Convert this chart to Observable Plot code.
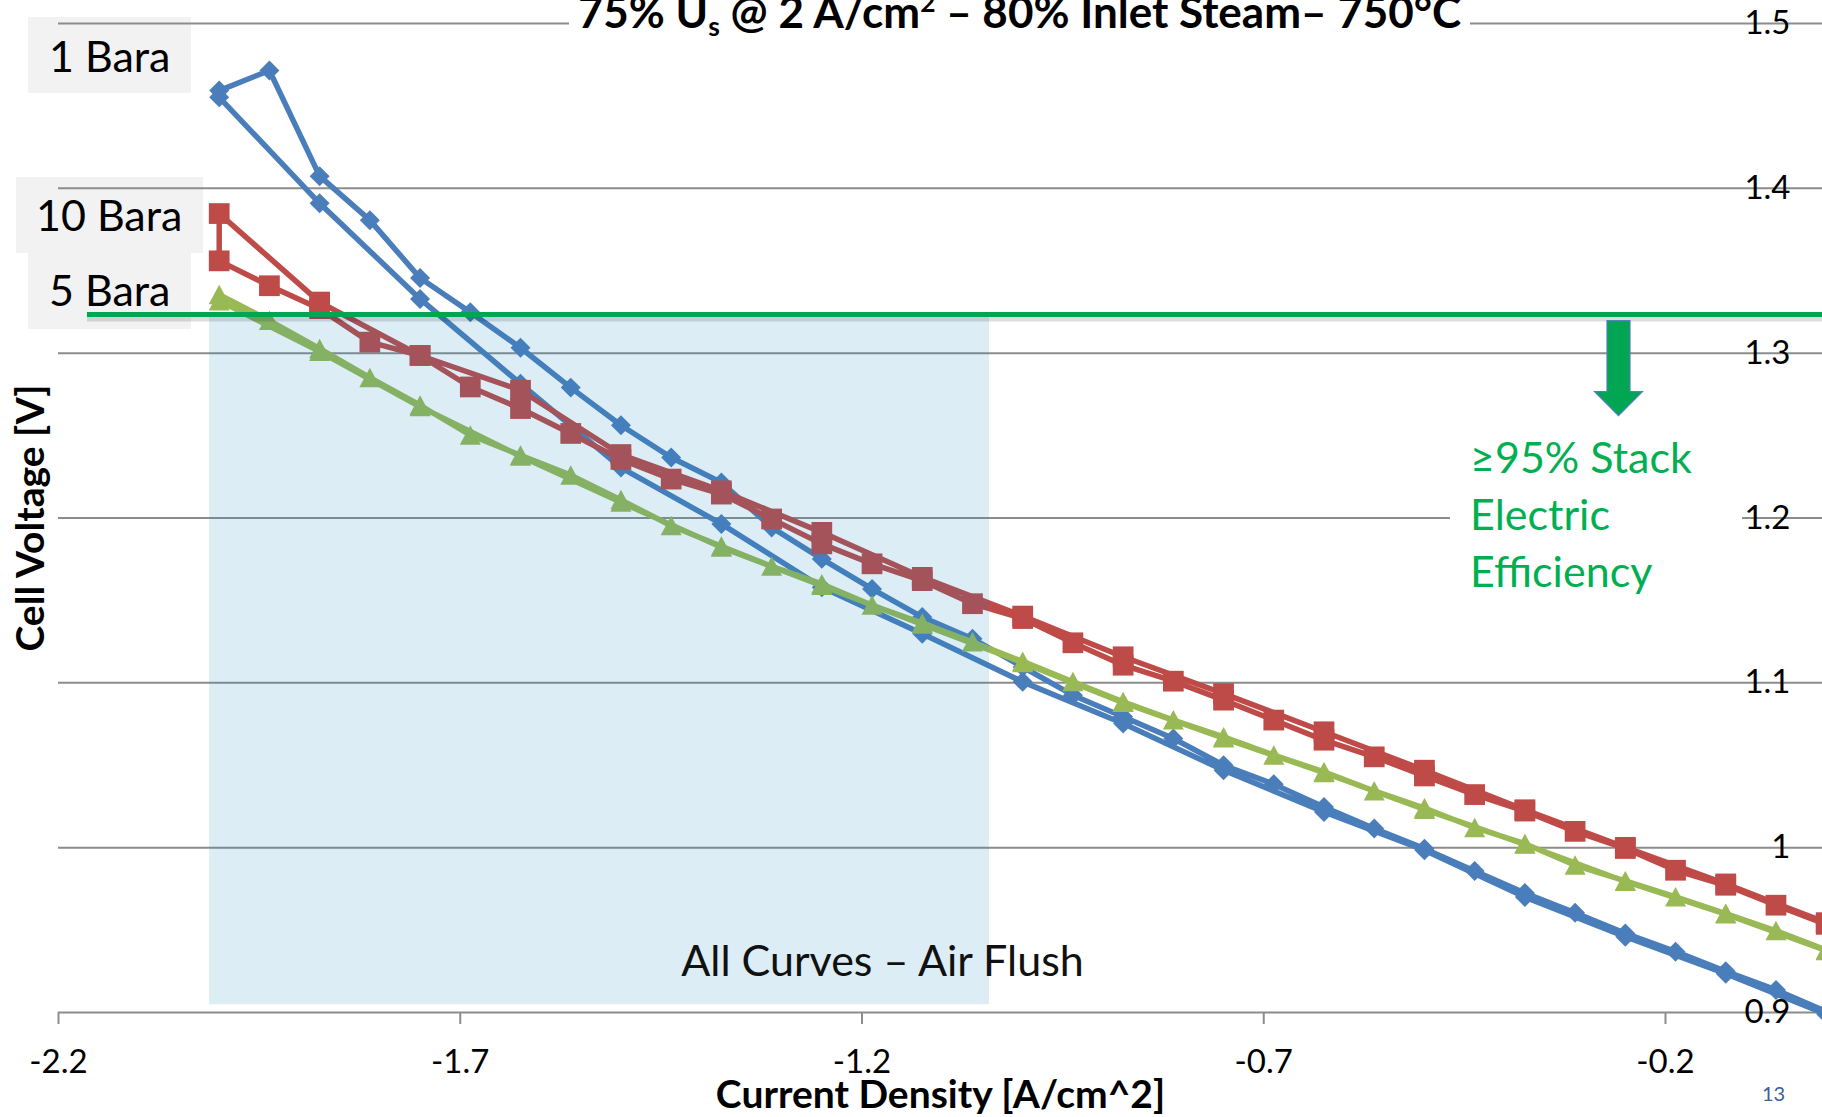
<!DOCTYPE html>
<html><head><meta charset="utf-8">
<script src="https://cdn.jsdelivr.net/npm/d3@7"></script>
<script src="https://cdn.jsdelivr.net/npm/@observablehq/plot@0.6"></script>
<style>
html,body{margin:0;padding:0;background:#fff;overflow:hidden;}
#wrap{position:relative;width:1822px;height:1117px;overflow:hidden;font-family:Lato,"Open Sans",sans-serif;}
#wrap svg{position:absolute;left:0;top:0;z-index:1;}
.under{position:absolute;z-index:0;}
.over{position:absolute;z-index:2;}
.lbl{position:absolute;white-space:nowrap;line-height:1.2;font-family:Lato,"Open Sans",sans-serif;}
</style></head>
<body><div id="wrap"></div>
<script>
// Current density steps (A/cm^2)
const currentStep = [-2, -1.9375, -1.875, -1.8125, -1.75, -1.6875, -1.625, -1.5625, -1.5, -1.4375, -1.375, -1.3125, -1.25, -1.1875, -1.125, -1.0625, -1, -0.9375, -0.875, -0.8125, -0.75, -0.6875, -0.625, -0.5625, -0.5, -0.4375, -0.375, -0.3125, -0.25, -0.1875, -0.125, -0.0625, 0];
const currentReturn = [-2, -1.875, -1.75, -1.625, -1.5, -1.375, -1.25, -1.125, -1, -0.875, -0.75, -0.625, -0.5, -0.375, -0.25, -0.125, 0];

// Cell voltage (V), 1 Bara
const v1BaraStep = [1.4593, 1.4715, 1.4074, 1.3807, 1.3456, 1.3248, 1.3033, 1.2791, 1.2563, 1.2367, 1.2215, 1.1943, 1.1752, 1.157, 1.1399, 1.1268, 1.1096, 1.0925, 1.0794, 1.0662, 1.05, 1.0385, 1.0247, 1.0116, 0.9994, 0.9859, 0.9725, 0.9605, 0.948, 0.9369, 0.925, 0.9137, 0.9006];
const v1BaraReturn = [1.4552, 1.3909, 1.3329, 1.2815, 1.2306, 1.1964, 1.158, 1.1298, 1.1006, 1.0753, 1.047, 1.0217, 0.9984, 0.970, 0.946, 0.9235, 0.899];
// 10 Bara
const v10BaraStep = [1.356, 1.3409, 1.327, 1.3067, 1.2986, 1.2795, 1.2664, 1.2513, 1.2355, 1.2236, 1.2145, 1.1994, 1.1843, 1.1722, 1.162, 1.148, 1.139, 1.1243, 1.1107, 1.101, 1.0895, 1.0774, 1.0652, 1.0551, 1.0435, 1.0322, 1.0222, 1.0099, 0.9995, 0.9863, 0.9772, 0.9651, 0.9535];
const v10BaraReturn = [1.3847, 1.331, 1.2986, 1.2775, 1.2385, 1.2165, 1.1913, 1.164, 1.1405, 1.1158, 1.0935, 1.0703, 1.047, 1.023, 1.0002, 0.978, 0.9545];
// 5 Bara
const v5BaraStep = [1.3355, 1.3198, 1.3027, 1.2851, 1.2684, 1.2502, 1.2381, 1.226, 1.211, 1.1953, 1.1828, 1.1707, 1.16, 1.147, 1.1362, 1.1247, 1.113, 1.1006, 1.0885, 1.0774, 1.0672, 1.0561, 1.046, 1.0344, 1.024, 1.0121, 1.0024, 0.9893, 0.9798, 0.9701, 0.96, 0.9496, 0.9379];
const v5BaraReturn = [1.3317, 1.301, 1.2675, 1.2375, 1.2095, 1.1822, 1.159, 1.1355, 1.1122, 1.088, 1.0665, 1.0455, 1.0232, 1.002, 0.9795, 0.9597, 0.9375];

const xTicks = [-2.2, -1.7, -1.2, -0.7, -0.2];
const yTicks = [0.9, 1, 1.1, 1.2, 1.3, 1.4, 1.5];
const efficiencyLimit = [1.3234];
const airFlushCurrent = [-2.012, -1.0413];
const airFlushVoltage = [0.9047, 1.3226];

// Excel-like isosceles triangle marker
const triangleSymbol = {draw(ctx) {
  ctx.moveTo(0, -10); ctx.lineTo(10.5, 9.5); ctx.lineTo(-10.5, 9.5); ctx.closePath();
}};

const series = [
  {step: v1BaraStep, ret: v1BaraReturn, color: "#4A7EBB", symbol: "diamond2", r: 9},
  {step: v10BaraStep, ret: v10BaraReturn, color: "#BE4B48", symbol: "square", r: 11.7},
  {step: v5BaraStep, ret: v5BaraReturn, color: "#98B954", symbol: triangleSymbol, r: 8}
];

function rows(s) {
  const out = [];
  for (let i = currentStep.length - 1; i >= 0; i--) out.push({i: currentStep[i], v: s.step[i]});
  for (let k = 0; k < currentReturn.length; k++) out.push({i: currentReturn[k], v: s.ret[k]});
  return out;
}

const arrowSymbol = {draw(ctx) {
  ctx.moveTo(-11.5, 0); ctx.lineTo(11.5, 0); ctx.lineTo(11.5, 71); ctx.lineTo(24, 71);
  ctx.lineTo(0, 95); ctx.lineTo(-24, 71); ctx.lineTo(-11.5, 71); ctx.closePath();
}};

const seriesMarks = series.flatMap(s => {
  const d = rows(s);
  return [
    Plot.line(d, {x: "i", y: "v", stroke: s.color, strokeWidth: 5.5, strokeLinejoin: "round"}),
    Plot.dot(d, {x: "i", y: "v", symbol: s.symbol, r: s.r, fill: s.color, stroke: "none"})
  ];
});

const chart = Plot.plot({
  width: 1822, height: 1117,
  marginLeft: 58, marginRight: 0, marginTop: 23, marginBottom: 105,
  x: {domain: [-2.2, -0.0046]},
  y: {domain: [0.9, 1.5]},
  style: {fontFamily: "Lato, 'Open Sans', sans-serif", background: "transparent", color: "#000"},
  marks: [
    Plot.ruleY(yTicks, {stroke: "#8c8c8c", strokeWidth: 2}),
    ...seriesMarks,
    Plot.rect([0], {x1: airFlushCurrent[0], x2: airFlushCurrent[1], y1: airFlushVoltage[0], y2: airFlushVoltage[1], fill: "#1B87C0", fillOpacity: 0.15}),
    Plot.ruleY(efficiencyLimit, {x1: -2.164, x2: 0.01, stroke: "#000", strokeOpacity: 0.13, strokeWidth: 6, dy: 4}),
    Plot.ruleY(efficiencyLimit, {x1: -2.164, x2: 0.01, stroke: "#00A651", strokeWidth: 5}),
    Plot.dot([0], {x: -0.2585, y: 1.3198, symbol: arrowSymbol, r: 10, fill: "#00A651", stroke: "#4F81BD", strokeWidth: 1.2}),
    Plot.text(["All Curves \u2013 Air Flush"], {x: -1.1745, y: 0.9307, fontSize: 43, fill: "#111"}),
    Plot.axisX({ticks: xTicks, tickFormat: d => String(d), tickSize: 12, tickPadding: 25, fontSize: 33, stroke: "#8c8c8c", strokeWidth: 2, fill: "#000", label: null}),
    Plot.axisY({anchor: "right", ticks: yTicks, tickFormat: d => String(d), tickSize: 0, tickPadding: 0, textAnchor: "end", dx: -32, fontSize: 33, fill: "#000", label: null}),
    Plot.text(["Current Density [A/cm^2]"], {frameAnchor: "bottom", dy: 95, fontSize: 39, fontWeight: "bold", fill: "#000"}),
    Plot.text(["Cell Voltage [V]"], {frameAnchor: "left", textAnchor: "middle", dx: -27, rotate: -90, fontSize: 39, fontWeight: "bold", fill: "#000"})
  ]
});

const wrap = document.getElementById("wrap");
wrap.innerHTML = `
<div class="under" style="left:28px;top:17px;width:163px;height:76px;background:#F2F2F2"></div>
<div class="under" style="left:16px;top:177px;width:187px;height:76px;background:#F2F2F2"></div>
<div class="under" style="left:28px;top:253px;width:163px;height:76px;background:#F2F2F2"></div>
<div class="lbl" style="z-index:0;left:49px;top:29.6px;font-size:43px;color:#000">1 Bara</div>
<div class="lbl" style="z-index:0;left:36px;top:188.6px;font-size:43px;color:#000">10 Bara</div>
<div class="lbl" style="z-index:0;left:49px;top:263.6px;font-size:43px;color:#000">5 Bara</div>
<div class="over" style="left:569px;top:-14px;width:901px;height:50px;background:#fff;text-align:center;font:bold 44px/50px Lato,'Open Sans',sans-serif;color:#000;white-space:nowrap">75% U<sub style="font-size:0.6em;vertical-align:-0.3em;line-height:0">s</sub> @ 2 A/cm<sup style="font-size:0.6em;vertical-align:0.6em;line-height:0">2</sup> \u2013 80% Inlet Steam\u2013 750\u00B0C</div>
<div class="over" style="left:1450px;top:428px;width:292px;height:175px;background:#fff;"></div>
<div class="lbl" style="z-index:3;left:1470px;top:428px;font-size:43px;line-height:57px;color:#00B050">\u226595% Stack<br>Electric<br>Efficiency</div>
<div class="lbl" style="z-index:3;left:1762px;top:1081px;font-size:20px;color:#3A5FA0">13</div>
`;
wrap.appendChild(chart);
</script></body></html>
